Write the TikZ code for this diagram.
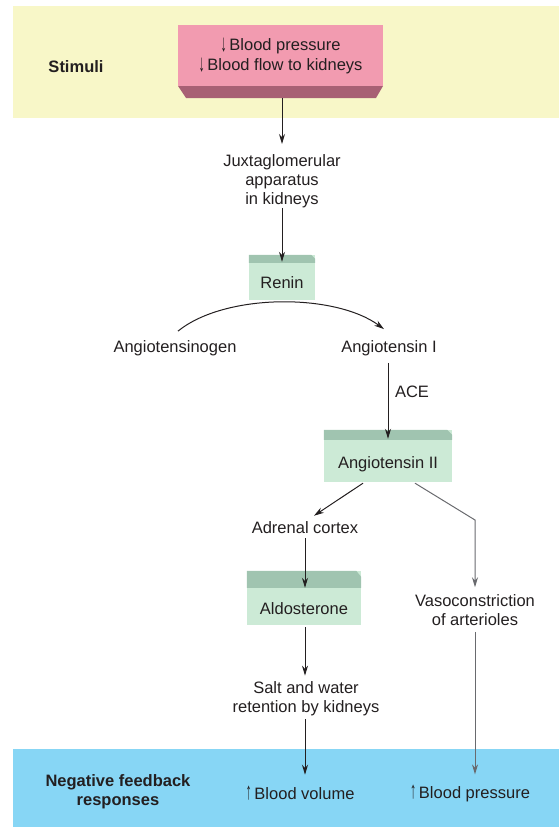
\documentclass[tikz,border=0pt]{standalone}
\usepackage{fontspec}
\setmainfont{Liberation Sans}
\usetikzlibrary{arrows.meta,calc}
\definecolor{bandY}{RGB}{248,247,200}
\definecolor{bandB}{RGB}{135,214,245}
\definecolor{pinkL}{RGB}{242,155,176}
\definecolor{pinkD}{RGB}{168,96,116}
\definecolor{grnL}{RGB}{204,234,214}
\definecolor{grnD}{RGB}{160,196,176}
\definecolor{txt}{RGB}{35,31,32}
\definecolor{gline}{RGB}{105,106,110}
\newcommand{\dnar}{\raisebox{-1pt}{\scalebox{0.75}[1.45]{↓}}}
\newcommand{\upar}{\raisebox{0pt}{\scalebox{0.75}[1.45]{↑}}}
\begin{document}
\begin{tikzpicture}[x=1pt,y=-1pt,
  every node/.style={font=\fontsize{16.5}{19}\selectfont, text=txt, inner sep=0pt, align=center},
  bold/.style={font=\fontsize{16.5}{19}\selectfont\bfseries},
  arr/.style={-{Stealth[length=10pt,width=6pt]}, line width=1pt, draw=txt},
  arrg/.style={-{Stealth[length=10pt,width=6pt]}, line width=1pt, draw=gline},
  gbox/.style={fill=grnL, anchor=base}]
\useasboundingbox (0,0) rectangle (559,827);
% bands
\fill[bandY] (13,6) rectangle (559,118);
\fill[bandB] (13,749) rectangle (559,827);
\node[bold] (stimuli) at (76,67) {Stimuli};
\node[bold] (neg) at (118,792) {Negative feedback\\responses};
% stimulus box
\fill[pinkD] (178,86) -- (383,86) -- (376,98) -- (186,98) -- cycle;
\node[fill=pinkL, minimum width=205pt, minimum height=61pt] (stim) at (280.5,55.5)
  {\dnar\,Blood pressure\\[1pt]\dnar\,Blood flow to kidneys};
\coordinate (stimb) at (282,98);
% juxtaglomerular
\node[anchor=north] (jga) at (282,154) {Juxtaglomerular\\apparatus\\in kidneys};
% renin
\node[gbox, minimum width=66pt, text height=33pt, text depth=12pt] (renin) at (282,288) {Renin};
\fill[grnD] (renin.north west) -- ($(renin.north east)+(-4,0)$) -- ($(renin.north east)+(0,4)$)
  -- ($(renin.north east)+(0,8)$) -- ($(renin.north west)+(0,8)$) -- cycle;
% angiotensinogen, angiotensin I
\node (agen) at (175,348) {Angiotensinogen};
\node (ang1) at (389,348) {Angiotensin I};
\node (ace) at (412,392) {ACE};
% angiotensin II
\node[gbox, minimum width=128pt, text height=38pt, text depth=14pt] (ang2) at (388,468) {Angiotensin II};
\fill[grnD] (ang2.north west) -- ($(ang2.north east)+(-5,0)$) -- ($(ang2.north east)+(0,5)$)
  -- ($(ang2.north east)+(0,10)$) -- ($(ang2.north west)+(0,10)$) -- cycle;
% adrenal cortex, aldosterone
\node (adr) at (305,528) {Adrenal cortex};
\node[gbox, minimum width=114pt, text height=43pt, text depth=11pt] (ald) at (304,614) {Aldosterone};
\fill[grnD] (ald.north west) -- ($(ald.north east)+(-5,0)$) -- ($(ald.north east)+(0,6)$)
  -- ($(ald.north east)+(0,17)$) -- ($(ald.north west)+(0,17)$) -- cycle;
\node (salt) at (306,699) {Salt and water\\retention by kidneys};
\node (vas) at (475,610) {Vasoconstriction\\of arterioles};
% responses
\node (vol) at (300,793) {\upar\,Blood volume};
\node (bp) at (470,793) {\upar\,Blood pressure};
% connectors
\draw[arr] (stimb) -- ($(jga.north)+(0,-10)$);
\draw[arr] (jga.south) -- ($(renin.north)+(0,7)$);
\draw[arr] ($(agen.north)+(3,-9)$) .. controls (225,293) and (335,293) .. ($(ang1.north)+(-5,-11)$);
\draw[arr] ($(ang1.south)+(-1,7)$) -- ($(ang2.north)+(0,9)$);
\draw[arr] ($(ang2.south)+(-25,1)$) -- ($(adr.north)+(9,-6)$);
\coordinate (vbend) at (475,520);
\draw[arrg] ($(ang2.south)+(27,1)$) -- (vbend) -- ($(vas.north)+(0,-7)$);
\draw[arr] ($(adr.south)+(0,4)$) -- ($(adr.south |- ald.north)+(0,17)$);
\draw[arr] ($(ald.south)+(1,2)$) -- ($(ald.south |- salt.north)+(1,-6)$);
\draw[arr] ($(salt.south)+(-1,3)$) -- ($(salt.south |- vol.north)+(-1,-11)$);
\draw[arrg] ($(vas.south)+(0,6)$) -- ($(vas.south |- bp.north)+(0,-10)$);
\end{tikzpicture}
\end{document}
